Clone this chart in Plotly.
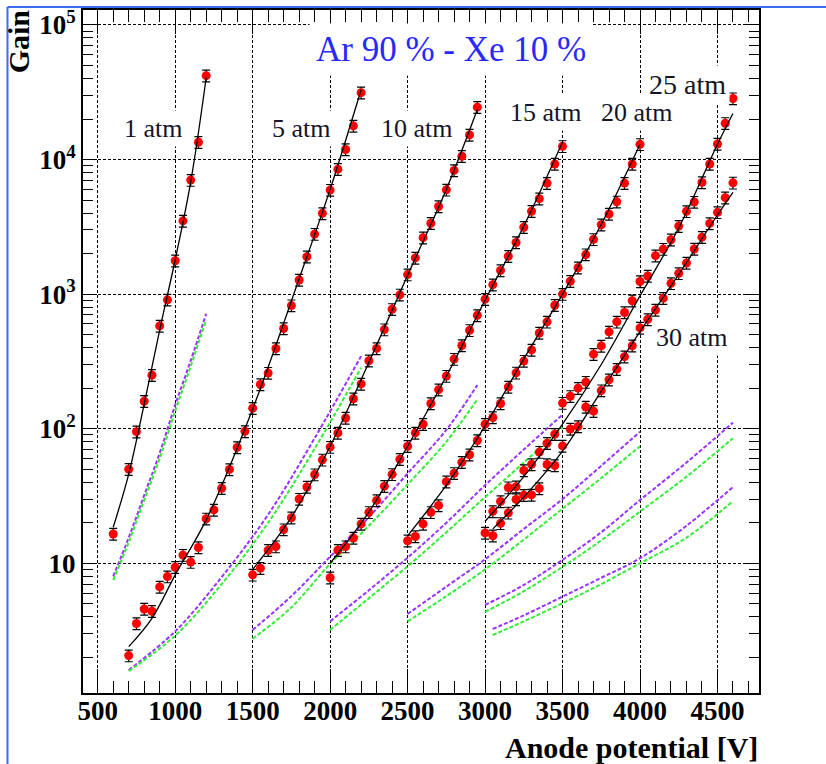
import plotly.graph_objects as go

# ---------------- data ----------------
# 1 atm
V_1 = [600, 700, 750, 800, 850, 900, 950, 1000, 1050, 1100, 1150, 1200]
G_1 = [16.5, 50, 95, 160, 250, 580, 907, 1770, 3500, 7030, 13450, 42000]
FIT_V_1 = [600, 700, 800, 900, 1000, 1100, 1200]
FIT_G_1 = [18.5, 46, 152, 540, 1800, 6800, 40500]
SIM_V_1 = [600, 700, 800, 900, 1000, 1100, 1200]
SIMA_G_1 = [8.0, 15.5, 32, 66, 150, 320, 714]
SIMB_G_1 = [7.5, 14.3, 29.5, 60, 135, 290, 645]

# 5 atm
V_5 = [700, 750, 800, 850, 900, 950, 1000, 1050, 1100, 1150, 1200, 1250, 1300, 1350,
       1400, 1450, 1500, 1550, 1600, 1650, 1700, 1750, 1800, 1850, 1900, 1950, 2000,
       2050, 2100, 2150, 2200]
G_5 = [2.06, 3.57, 4.57, 4.4, 6.67, 7.96, 9.34, 11.5, 10.2, 13.1, 21.4, 24.9, 36.1, 49.8,
       72.6, 95.5, 142, 213, 259, 394, 555, 822, 1274, 1897, 2793, 3980, 5930,
       8480, 11870, 17780, 31400]
FIT_V_5 = [700, 850, 1000, 1200, 1500, 1800, 2000, 2200]
FIT_G_5 = [2.4, 3.9, 8.2, 21, 140, 1300, 6000, 33000]
SIM_V_5 = [700, 1000, 1300, 1600, 1900, 2200]
SIMA_G_5 = [1.61, 3.12, 7.9, 23, 85, 346]
SIMB_G_5 = [1.58, 2.9, 7.0, 20, 71, 284]

# 10 atm
V_10 = [1500, 1550, 1600, 1650, 1700, 1750, 1800, 1850, 1900, 1950, 2000, 2050, 2100,
        2150, 2200, 2250, 2300, 2350, 2400, 2450, 2500, 2550, 2600, 2650, 2700, 2750,
        2800, 2850, 2900, 2950]
G_10 = [8.2, 9.2, 12.5, 13.3, 17.8, 21.8, 30, 36.9, 45.6, 58.7, 73, 93, 120,
        167, 215, 320, 395, 545, 771, 988, 1396, 1857, 2626, 3363, 4478, 5950,
        8300, 10580, 15240, 24500]
FIT_V_10 = [1500, 1750, 2000, 2250, 2500, 2750, 2950]
FIT_G_10 = [9.0, 22, 74, 310, 1380, 6000, 23500]
SIM_V_10 = [1500, 1750, 2000, 2250, 2500, 2750, 2950]
SIMA_G_10 = [3.2, 5.7, 11.2, 22, 46.5, 98, 211]
SIMB_G_10 = [2.75, 4.7, 9.9, 19, 38.5, 80, 165]

# 15 atm
V_15 = [2000, 2050, 2100, 2150, 2200, 2250, 2300, 2350, 2400, 2450, 2500, 2550, 2600,
        2650, 2700, 2750, 2800, 2850, 2900, 2950, 3000, 3050, 3100, 3150, 3200, 3250,
        3300, 3350, 3400, 3450, 3500]
G_15 = [7.8, 12.5, 13.3, 15.4, 19.6, 23.9, 29.3, 37.4, 45.8, 59.4, 74, 93, 108,
        154, 195, 246, 329, 415, 538, 695, 917, 1175, 1500, 1911, 2420, 3140,
        4130, 5120, 6670, 9270, 12530]
FIT_V_15 = [2000, 2250, 2500, 2750, 3000, 3250, 3500]
FIT_G_15 = [10, 24, 74, 245, 900, 3200, 13500]
SIM_V_15 = [2000, 2250, 2500, 2750, 3000, 3250, 3500]
SIMA_G_15 = [3.7, 6.3, 11, 20, 38, 70, 127]
SIMB_G_15 = [3.2, 5.5, 9.5, 17, 31, 56, 102]

# 20 atm
V_20 = [2500, 2550, 2600, 2650, 2700, 2750, 2800, 2850, 2900, 2950, 3000, 3050, 3100,
        3150, 3200, 3250, 3300, 3350, 3400, 3450, 3500, 3550, 3600, 3650, 3700, 3750,
        3800, 3850, 3900, 3950, 4000]
G_20 = [14.7, 15.8, 19.6, 23.9, 26.9, 40.4, 46.6, 56.4, 64, 81.7, 108, 121, 154,
        204, 260, 318, 385, 514, 622, 826, 1000, 1246, 1570, 1967, 2553, 3275,
        3940, 4850, 6670, 9270, 12970]
FIT_V_20 = [2500, 2750, 3000, 3250, 3500, 3750, 4000]
FIT_G_20 = [16, 38, 105, 330, 1000, 3300, 13000]
SIM_V_20 = [2500, 2750, 3000, 3250, 3500, 3750, 4000]
SIMA_G_20 = [4.2, 6.7, 10.7, 18, 30, 53, 95]
SIMB_G_20 = [3.7, 5.7, 9.0, 15, 25.4, 43, 74]

# 25 atm
V_25 = [3000, 3050, 3100, 3150, 3200, 3250, 3300, 3350, 3400, 3450, 3500, 3550, 3600,
        3650, 3700, 3750, 3800, 3850, 3900, 3950, 4000, 4050, 4100, 4150, 4200, 4250,
        4300, 4350, 4400, 4450, 4500, 4550, 4600]
G_25 = [16.8, 24.3, 28.8, 36.5, 37, 49, 54.3, 67, 78, 91, 155, 174, 200,
        222, 358, 412, 524, 622, 730, 892, 1240, 1362, 1930, 2160, 2535, 3200,
        4120, 4830, 6760, 9270, 13040, 18580, 28380]
FIT_V_25 = [3000, 3250, 3500, 3750, 4000, 4250, 4500, 4600]
FIT_G_25 = [20.5, 44, 108, 300, 970, 3100, 13000, 22000]
SIM_V_25 = [3000, 3250, 3500, 3750, 4000, 4300, 4600]
SIMA_G_25 = [4.9, 6.9, 10.6, 17, 29.5, 56, 111]
SIMB_G_25 = [4.35, 6.2, 9.4, 14.8, 24.2, 44, 85]

# 30 atm
V_30 = [3050, 3100, 3150, 3200, 3250, 3300, 3350, 3400, 3450, 3500, 3550, 3600, 3650,
        3700, 3750, 3800, 3850, 3900, 3950, 4000, 4050, 4100, 4150, 4200, 4250, 4300,
        4350, 4400, 4450, 4500, 4550, 4600]
G_30 = [16, 19.8, 23.7, 29.8, 32, 32.2, 36, 54.2, 53.3, 74.5, 99.5, 104, 145,
        135, 192, 231, 277, 343, 413, 561, 649, 762, 933, 1202, 1426, 1702,
        2163, 2648, 3350, 4050, 5210, 6710]
FIT_V_30 = [3050, 3250, 3500, 3750, 4000, 4250, 4500, 4600]
FIT_G_30 = [18, 31, 68, 190, 527, 1400, 3870, 5700]
SIM_V_30 = [3050, 3250, 3500, 3750, 4000, 4300, 4600]
SIMA_G_30 = [3.25, 4.1, 5.65, 7.8, 10.9, 19, 36.9]
SIMB_G_30 = [2.93, 3.7, 5.05, 7.0, 10, 15.5, 29]

LABELS = ["1 atm", "5 atm", "10 atm", "15 atm", "20 atm", "25 atm", "30 atm"]
TITLE_TEXT = "Ar 90 % - Xe 10 %"
X_TICKS = [500, 1000, 1500, 2000, 2500, 3000, 3500, 4000, 4500]
Y_TICKS = [10, 100, 1000, 10000, 100000]
Y_TICKTEXT = ["10", "10<sup>2</sup>", "10<sup>3</sup>", "10<sup>4</sup>", "10<sup>5</sup>"]

# ---------------- figure ----------------
PURPLE = "#9933ff"
GREEN = "#33ee33"
SERIF = "Liberation Serif, Times New Roman, serif"

series = [
    (V_1, G_1, FIT_V_1, FIT_G_1, SIM_V_1, SIMA_G_1, SIMB_G_1),
    (V_5, G_5, FIT_V_5, FIT_G_5, SIM_V_5, SIMA_G_5, SIMB_G_5),
    (V_10, G_10, FIT_V_10, FIT_G_10, SIM_V_10, SIMA_G_10, SIMB_G_10),
    (V_15, G_15, FIT_V_15, FIT_G_15, SIM_V_15, SIMA_G_15, SIMB_G_15),
    (V_20, G_20, FIT_V_20, FIT_G_20, SIM_V_20, SIMA_G_20, SIMB_G_20),
    (V_25, G_25, FIT_V_25, FIT_G_25, SIM_V_25, SIMA_G_25, SIMB_G_25),
    (V_30, G_30, FIT_V_30, FIT_G_30, SIM_V_30, SIMA_G_30, SIMB_G_30),
]

fig = go.Figure()
for (v, g, fv, fg, sv, sa, sb) in series:
    fig.add_trace(go.Scatter(x=sv, y=sa, mode="lines",
                             line=dict(color=PURPLE, width=2, dash="4px,2px", shape="spline"),
                             hoverinfo="skip"))
    fig.add_trace(go.Scatter(x=sv, y=sb, mode="lines",
                             line=dict(color=GREEN, width=2, dash="4px,2px", shape="spline"),
                             hoverinfo="skip"))
for (v, g, fv, fg, sv, sa, sb) in series:
    fig.add_trace(go.Scatter(x=v, y=g, mode="markers",
                             marker=dict(color="#ff0000", size=9, line=dict(width=0)),
                             error_y=dict(type="percent", value=10, color="black",
                                          thickness=1.2, width=4)))
    fig.add_trace(go.Scatter(x=fv, y=fg, mode="lines",
                             line=dict(color="black", width=1.3, shape="spline", smoothing=1.0),
                             hoverinfo="skip"))

fig.update_layout(
    width=826, height=764,
    margin=dict(l=83, r=67, t=10, b=71, autoexpand=False),
    paper_bgcolor="white", plot_bgcolor="white",
    showlegend=False,
    font=dict(family=SERIF, color="black", size=20),
)

axis_common = dict(
    showline=True, linewidth=2, linecolor="black", mirror="allticks",
    ticks="inside", tickcolor="black", tickwidth=1.3,
    showgrid=True, gridcolor="black", gridwidth=1, griddash="3px,2px",
    zeroline=False,
    tickfont=dict(family=SERIF, size=27, color="black", weight="bold"),
)

fig.update_xaxes(
    range=[405, 4768], tickmode="array", tickvals=X_TICKS,
    ticktext=[str(t) for t in X_TICKS], ticklen=24, ticklabelstandoff=-7,
    minor=dict(tick0=0, dtick=100, ticks="inside", ticklen=12, tickcolor="black",
               tickwidth=1.3, showgrid=False),
    **axis_common,
)

y_minor = [m * 10 ** k for k in range(0, 6) for m in range(2, 10)]
fig.update_yaxes(
    type="log", range=[0.036, 5.111], tickmode="array", tickvals=Y_TICKS,
    ticktext=Y_TICKTEXT, ticklen=14,
    minor=dict(tickmode="array", tickvals=y_minor, ticks="inside", ticklen=10,
               tickcolor="black", tickwidth=1.3, showgrid=False),
    **axis_common,
)

label_pos = [(863, 4.234, 26), (1818, 4.234, 26), (2560, 4.234, 26), (3392, 4.346, 26),
             (3979, 4.346, 26), (4308, 4.554, 28), (4334, 2.681, 26)]
for text, (lx, ly, fs) in zip(LABELS, label_pos):
    fig.add_annotation(x=lx, y=ly, xref="x", yref="y", text=text, showarrow=False,
                       font=dict(family=SERIF, size=fs, color="#141428"),
                       bgcolor="white", borderpad=3)

fig.add_annotation(x=2779, y=4.814, xref="x", yref="y", text=TITLE_TEXT, showarrow=False,
                   font=dict(family=SERIF, size=35, color="#2828ff"),
                   bgcolor="white", borderpad=6)

fig.add_annotation(x=-0.096, y=1.004, xref="paper", yref="paper", text="<b>Gain</b>",
                   textangle=-90, showarrow=False, xanchor="center", yanchor="top",
                   font=dict(family=SERIF, size=30, color="black"))
fig.add_annotation(x=1.0015, y=-0.0805, xref="paper", yref="paper",
                   text="<b>Anode potential [V]</b>", showarrow=False,
                   xanchor="right", yanchor="middle",
                   font=dict(family=SERIF, size=30, color="black"))

# blue frame around the picture
fig.add_shape(type="line", xref="paper", yref="paper", x0=-0.1117, x1=-0.1117,
              y0=1.0044, y1=-0.11, line=dict(color="#3a6df0", width=2))
fig.add_shape(type="line", xref="paper", yref="paper", x0=-0.1117, x1=1.11,
              y0=1.0044, y1=1.0044, line=dict(color="#3a6df0", width=2))

fig.write_html("out.html")
